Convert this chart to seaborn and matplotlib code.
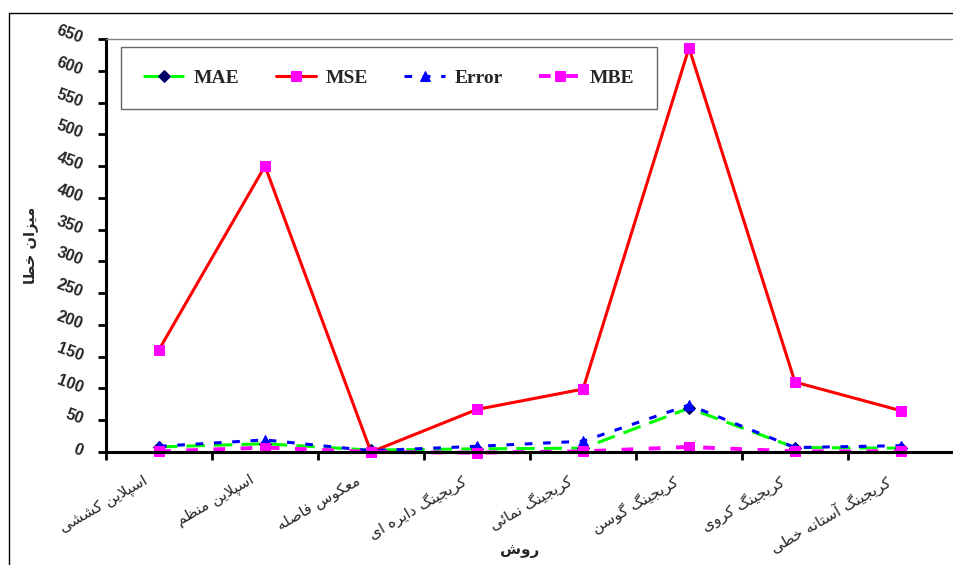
import matplotlib
matplotlib.use("Agg")
import matplotlib.pyplot as plt
from matplotlib.lines import Line2D
from matplotlib.transforms import ScaledTranslation
import pandas as pd
import seaborn as sns

methods = ["اسپلاین کششی", "اسپلاین منظم", "معکوس فاصله", "کریجینگ دایره ای",
           "کریجینگ نمائی", "کریجینگ گوسن", "کریجینگ کروی", "کریجینگ آستانه خطی"]
mae = [8, 13, 3, 5, 6, 69, 7, 6]
mse = [161, 450, 0, 67, 99, 636, 110, 65]
error = [9, 19, 2, 9, 17, 74, 7, 10]
mbe = [1, 7, 0, -1, 1, 8, 1, 1]
x_title = "روش"
y_title = "میزان خطا"

# presentation forms, since matplotlib does no arabic shaping
FORMS = {
    'ا': ('\uFE8D', '\uFE8E', None, None),
    'آ': ('\uFE81', '\uFE82', None, None),
    'ب': ('\uFE8F', '\uFE90', '\uFE91', '\uFE92'),
    'پ': ('\uFB56', '\uFB57', '\uFB58', '\uFB59'),
    'ت': ('\uFE95', '\uFE96', '\uFE97', '\uFE98'),
    'ج': ('\uFE9D', '\uFE9E', '\uFE9F', '\uFEA0'),
    'خ': ('\uFEA5', '\uFEA6', '\uFEA7', '\uFEA8'),
    'د': ('\uFEA9', '\uFEAA', None, None),
    'ر': ('\uFEAD', '\uFEAE', None, None),
    'ز': ('\uFEAF', '\uFEB0', None, None),
    'س': ('\uFEB1', '\uFEB2', '\uFEB3', '\uFEB4'),
    'ش': ('\uFEB5', '\uFEB6', '\uFEB7', '\uFEB8'),
    'ص': ('\uFEB9', '\uFEBA', '\uFEBB', '\uFEBC'),
    'ط': ('\uFEC1', '\uFEC2', '\uFEC3', '\uFEC4'),
    'ظ': ('\uFEC5', '\uFEC6', '\uFEC7', '\uFEC8'),
    'ع': ('\uFEC9', '\uFECA', '\uFECB', '\uFECC'),
    'ف': ('\uFED1', '\uFED2', '\uFED3', '\uFED4'),
    'ک': ('\uFB8E', '\uFB8F', '\uFB90', '\uFB91'),
    'گ': ('\uFB92', '\uFB93', '\uFB94', '\uFB95'),
    'ل': ('\uFEDD', '\uFEDE', '\uFEDF', '\uFEE0'),
    'م': ('\uFEE1', '\uFEE2', '\uFEE3', '\uFEE4'),
    'ن': ('\uFEE5', '\uFEE6', '\uFEE7', '\uFEE8'),
    'ه': ('\uFEE9', '\uFEEA', '\uFEEB', '\uFEEC'),
    'و': ('\uFEED', '\uFEEE', None, None),
    'ی': ('\uFBFC', '\uFBFD', '\uFBFE', '\uFBFF'),
    'ئ': ('\uFE89', '\uFE8A', '\uFE8B', '\uFE8C'),
}
LAM_ALEF = {'ا': ('\uFEFB', '\uFEFC'), 'آ': ('\uFEF5', '\uFEF6')}


def shape(text):
    out = []
    i = 0
    while i < len(text):
        c = text[i]
        prev = text[i - 1] if i > 0 else ''
        link_prev = prev in FORMS and FORMS[prev][2] is not None
        if c == 'ل' and i + 1 < len(text) and text[i + 1] in LAM_ALEF:
            out.append(LAM_ALEF[text[i + 1]][1 if link_prev else 0])
            i += 2
            continue
        if c not in FORMS:
            out.append(c)
            i += 1
            continue
        nxt = text[i + 1] if i + 1 < len(text) else ''
        link_next = FORMS[c][2] is not None and nxt in FORMS
        iso, fin, ini, med = FORMS[c]
        if link_prev and link_next:
            out.append(med)
        elif link_prev:
            out.append(fin)
        elif link_next:
            out.append(ini)
        else:
            out.append(iso)
        i += 1
    return ''.join(reversed(out))


sns.set_style("white")
plt.rcParams['font.family'] = ['DejaVu Sans']

pos = list(range(len(methods)))
df = pd.DataFrame({"pos": pos, "MAE": mae, "MSE": mse, "Error": error, "MBE": mbe})

fig = plt.figure(figsize=(9.54, 5.65), dpi=100)
ax = fig.add_axes([106 / 954, 1 - 452 / 565, 848 / 954, 413 / 565])

sns.lineplot(data=df, x="pos", y="MAE", ax=ax, color="#00ff00", lw=2.2,
             linestyle=(0, (6, 3)), marker="D", ms=6, markerfacecolor="#000066",
             markeredgecolor="#000066", label="MAE", clip_on=False)
sns.lineplot(data=df, x="pos", y="MSE", ax=ax, color="#ff0000", lw=2.2,
             marker="s", ms=7, markerfacecolor="#ff00ff", markeredgecolor="#ff00ff",
             label="MSE", clip_on=False)
sns.lineplot(data=df, x="pos", y="Error", ax=ax, color="#0000ff", lw=2.2,
             linestyle=(0, (2.5, 3.5)), marker="^", ms=7, markerfacecolor="#0000ff",
             markeredgecolor="#0000ff", label="Error", clip_on=False)
sns.lineplot(data=df, x="pos", y="MBE", ax=ax, color="#ff00ff", lw=2.8,
             linestyle=(0, (3, 4)), marker="s", ms=7, markerfacecolor="#ff00ff",
             markeredgecolor="#ff00ff", label="MBE", clip_on=False)

ax.set_xlim(-0.5, len(methods) - 0.5)
ax.set_ylim(0, 650)
ax.set_yticks(range(0, 651, 50))
ax.set_yticklabels([str(v) for v in range(0, 651, 50)], fontsize=11.5,
                   fontweight="bold", family="Liberation Sans")
for lab in ax.get_yticklabels():
    lab.set_rotation(-20)
    lab.set_rotation_mode("anchor")
    lab.set_ha("right")
    lab.set_va("center")
    lab.set_transform(lab.get_transform() + ScaledTranslation(0, 0.03, fig.dpi_scale_trans))

ax.set_xticks([p - 0.5 for p in pos] + [len(methods) - 0.5])
ax.set_xticklabels([])
ax.set_xticks(pos, [shape(m) for m in methods], minor=True)
ax.tick_params(axis="x", which="minor", bottom=True, length=0, pad=15, labelsize=11)
ax.tick_params(axis="x", which="major", bottom=True, length=6, width=2, direction="out",
               color="black")
ax.tick_params(axis="y", left=True, length=6, width=2, direction="out", pad=11,
               color="black")
for lab in ax.get_xticklabels(minor=True):
    lab.set_rotation(30)
    lab.set_rotation_mode("anchor")
    lab.set_ha("right")
    lab.set_va("top")
    lab.set_transform(lab.get_transform() + ScaledTranslation(-0.16, 0, fig.dpi_scale_trans))

ax.set_xlabel(shape(x_title), fontsize=11, fontweight="bold")
ax.set_ylabel(shape(y_title), fontsize=10.5, fontweight="bold")
ax.xaxis.set_label_coords(0.488, -0.22)
ax.yaxis.set_label_coords(-0.08, 0.5)

for side in ["left", "bottom"]:
    ax.spines[side].set_linewidth(2.2)
    ax.spines[side].set_color("black")
ax.spines["top"].set_color("#808080")
ax.spines["top"].set_linewidth(1)
ax.spines["right"].set_visible(False)

handles, labels = ax.get_legend_handles_labels()
leg = ax.legend(handles, labels, loc="upper left", bbox_to_anchor=(0.0177, 0.981),
                borderaxespad=0, ncol=4, frameon=True, fancybox=False,
                handlelength=2.1, handletextpad=0.5, columnspacing=1.85,
                borderpad=1.15, prop={"family": "Liberation Serif", "weight": "bold", "size": 14})
leg.get_frame().set_edgecolor("#404040")
leg.get_frame().set_linewidth(1)

# outer frame of the page
fig.add_artist(Line2D([9 / 954, 1], [1 - 13 / 565] * 2, transform=fig.transFigure,
                      color="black", lw=1))
fig.add_artist(Line2D([9 / 954] * 2, [0, 1 - 13 / 565], transform=fig.transFigure,
                      color="black", lw=1))

fig.savefig("out.png", dpi=100)
